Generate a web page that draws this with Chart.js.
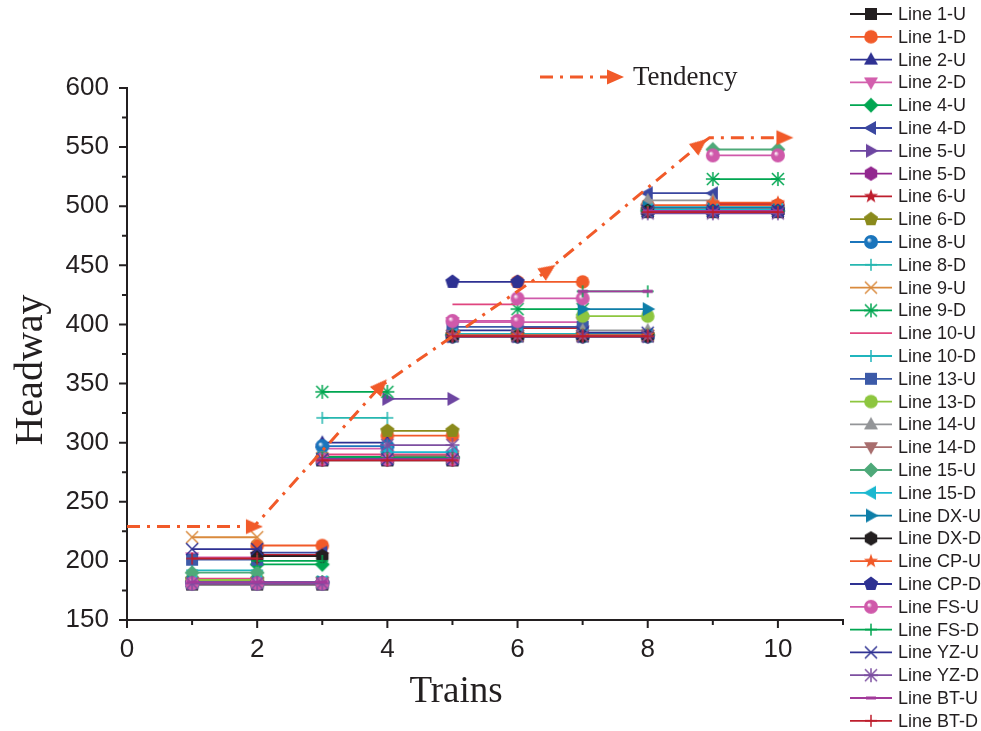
<!DOCTYPE html>
<html>
<head>
<meta charset="utf-8">
<script src="https://cdn.jsdelivr.net/npm/chart.js@4.4.1/dist/chart.umd.min.js"></script>
<style>
  html, body { margin: 0; padding: 0; background: #fff; }
  #wrap { width: 981px; height: 731px; position: relative; }
</style>
</head>
<body>
<div id="wrap"><canvas id="chart" width="981" height="731"></canvas></div>
<script>
// --- 1. Data ---
// each line: [first train, last train, headway] segments
const seriesNames = [
  'Line 1-U', 'Line 1-D', 'Line 2-U', 'Line 2-D', 'Line 4-U', 'Line 4-D', 'Line 5-U', 'Line 5-D',
  'Line 6-U', 'Line 6-D', 'Line 8-U', 'Line 8-D', 'Line 9-U', 'Line 9-D', 'Line 10-U', 'Line 10-D',
  'Line 13-U', 'Line 13-D', 'Line 14-U', 'Line 14-D', 'Line 15-U', 'Line 15-D', 'Line DX-U', 'Line DX-D',
  'Line CP-U', 'Line CP-D', 'Line FS-U', 'Line FS-D', 'Line YZ-U', 'Line YZ-D', 'Line BT-U', 'Line BT-D'
];

const line1U  = [[1, 3, 180], [3, 5, 285], [5, 8, 390], [8, 10, 495]];
const line1D  = [[2, 3, 213], [4, 5, 306], [6, 7, 436], [8, 10, 501]];
const line2U  = [[1, 2, 182], [3, 4, 300], [5, 6, 395], [8, 10, 497]];
const line2D  = [[1, 2, 203], [3, 4, 295], [5, 7, 402], [8, 10, 497]];
const line4U  = [[2, 3, 197], [3, 5, 288], [6, 8, 391], [8, 10, 496]];
const line4D  = [[2, 3, 207], [3, 5, 287], [5, 8, 391], [8, 9, 511]];
const line5U  = [[1, 3, 181], [4, 5, 337], [5, 8, 390], [8, 10, 496]];
const line5D  = [[1, 3, 181], [3, 5, 286], [5, 8, 390], [8, 10, 496]];
const line6U  = [[2, 3, 205], [3, 5, 286], [6, 7, 397], [9, 10, 502]];
const line6D  = [[1, 2, 184], [4, 5, 310], [5, 8, 391], [8, 10, 497]];
const line8U  = [[1, 3, 181], [3, 4, 297], [5, 8, 390], [8, 10, 496]];
const line8D  = [[1, 3, 182], [3, 4, 321], [5, 8, 391], [8, 10, 499]];
const line9U  = [[1, 2, 220], [3, 5, 287], [5, 8, 391], [8, 10, 497]];
const line9D  = [[1, 3, 182], [3, 4, 343], [6, 7, 413], [9, 10, 523]];
const line10U = [[1, 2, 185], [3, 5, 290], [5, 6, 417], [8, 10, 497]];
const line10D = [[1, 2, 192], [3, 5, 286], [5, 8, 392], [8, 10, 496]];
const line13U = [[1, 2, 201], [3, 5, 286], [5, 7, 398], [8, 10, 496]];
const line13D = [[1, 2, 184], [3, 5, 287], [7, 8, 407], [8, 10, 497]];
const line14U = [[1, 3, 181], [3, 5, 286], [7, 8, 395], [8, 9, 505]];
const line14D = [[1, 3, 182], [4, 5, 289], [5, 8, 391], [8, 10, 498]];
const line15U = [[1, 2, 190], [3, 5, 287], [5, 8, 391], [9, 10, 548]];
const line15D = [[1, 3, 182], [4, 5, 292], [5, 8, 391], [8, 10, 497]];
const lineDXU = [[1, 3, 182], [3, 5, 287], [7, 8, 413], [8, 10, 499]];
const lineDXD = [[2, 3, 204], [3, 5, 286], [5, 8, 390], [8, 10, 496]];
const lineCPU = [[1, 3, 181], [3, 5, 286], [5, 8, 391], [9, 10, 503]];
const lineCPD = [[1, 3, 181], [3, 5, 286], [5, 6, 436], [9, 10, 496]];
const lineFSU = [[1, 3, 181], [3, 5, 286], [5, 6, 403], [6, 7, 422], [9, 10, 543]];
const lineFSD = [[2, 3, 200], [3, 5, 287], [7, 8, 428], [8, 10, 496]];
const lineYZU = [[1, 2, 210], [3, 5, 286], [7, 8, 393], [8, 10, 496]];
const lineYZD = [[1, 3, 181], [4, 5, 298], [5, 8, 390], [8, 10, 494]];
const lineBTU = [[1, 3, 182], [3, 5, 286], [7, 8, 428], [8, 10, 496]];
const lineBTD = [[1, 2, 202], [3, 5, 285], [5, 8, 390], [8, 10, 495]];

const seriesSegments = [
  line1U, line1D, line2U, line2D, line4U, line4D, line5U, line5D,
  line6U, line6D, line8U, line8D, line9U, line9D, line10U, line10D,
  line13U, line13D, line14U, line14D, line15U, line15D, lineDXU, lineDXD,
  lineCPU, lineCPD, lineFSU, lineFSD, lineYZU, lineYZD, lineBTU, lineBTD
];

// tendency line (arrows at some of the points)
const tendencyTrains  = [0, 1.95, 3.9, 6.47, 8.8, 8.95, 10.1];
const tendencyHeadway = [229, 229, 348, 446, 552, 558, 558];
const tendencyArrow   = [false, true, true, true, true, false, true];

const xLabels = [0, 2, 4, 6, 8, 10];

// --- 2. Styles ---
const seriesStyles = [
  { color: '#231f20', marker: 'square' },   { color: '#f15a29', marker: 'circle' },
  { color: '#2e3192', marker: 'triUp' },    { color: '#d35fad', marker: 'triDown' },
  { color: '#00a651', marker: 'diamond' },  { color: '#3a47a0', marker: 'triLeft' },
  { color: '#6d45a1', marker: 'triRight' }, { color: '#92278f', marker: 'hexagon' },
  { color: '#be1e2d', marker: 'star5' },    { color: '#8a8a1c', marker: 'pentagon' },
  { color: '#1b75bc', marker: 'sphere' },   { color: '#26b7b0', marker: 'plus' },
  { color: '#d98a3d', marker: 'cross' },    { color: '#00a651', marker: 'asterisk' },
  { color: '#e0457f', marker: 'none' },     { color: '#20b5bd', marker: 'plus' },
  { color: '#3c5aa8', marker: 'square' },   { color: '#8dc63f', marker: 'circle' },
  { color: '#939598', marker: 'triUp' },    { color: '#a86e6e', marker: 'triDown' },
  { color: '#4ea979', marker: 'diamond' },  { color: '#1bb8d0', marker: 'triLeft' },
  { color: '#0e7ea8', marker: 'triRight' }, { color: '#231f20', marker: 'hexagon' },
  { color: '#f15a29', marker: 'star5' },    { color: '#2e3192', marker: 'pentagon' },
  { color: '#cf59aa', marker: 'sphere' },   { color: '#00a651', marker: 'plus' },
  { color: '#2e3192', marker: 'cross' },    { color: '#7d4fa0', marker: 'asterisk' },
  { color: '#a23a9a', marker: 'dash' },     { color: '#be1e2d', marker: 'plus' }
];
const TEND_COLOR = '#f15a29';
const INK = '#231f20';

// --- 3. Marker canvases ---
function makeMarker(kind, color) {
  const size = 20;
  const c = document.createElement('canvas');
  c.width = size; c.height = size;
  const g = c.getContext('2d');
  g.translate(size / 2, size / 2);
  g.fillStyle = color;
  g.strokeStyle = color;
  g.lineWidth = 1.5;

  const poly = (n, r, start) => {
    g.beginPath();
    for (let k = 0; k < n; k++) {
      const a = start + k * 2 * Math.PI / n;
      g.lineTo(r * Math.cos(a), r * Math.sin(a));
    }
    g.closePath();
    g.fill();
  };
  const tri = (rot) => {
    g.save();
    g.rotate(rot);
    g.beginPath();
    g.moveTo(0, -7.5); g.lineTo(7, 5); g.lineTo(-7, 5);
    g.closePath(); g.fill();
    g.restore();
  };
  const seg = (x1, y1, x2, y2) => { g.beginPath(); g.moveTo(x1, y1); g.lineTo(x2, y2); g.stroke(); };

  switch (kind) {
    case 'square': g.fillRect(-6, -6, 12, 12); break;
    case 'circle': g.beginPath(); g.arc(0, 0, 6.8, 0, 2 * Math.PI); g.fill(); break;
    case 'triUp': tri(0); break;
    case 'triDown': tri(Math.PI); break;
    case 'triLeft': tri(-Math.PI / 2); break;
    case 'triRight': tri(Math.PI / 2); break;
    case 'diamond': poly(4, 7.5, -Math.PI / 2); break;
    case 'hexagon': poly(6, 7.2, -Math.PI / 2); break;
    case 'pentagon': poly(5, 7.5, -Math.PI / 2); break;
    case 'star5': {
      g.beginPath();
      for (let k = 0; k < 10; k++) {
        const r = k % 2 === 0 ? 7.5 : 3;
        const a = -Math.PI / 2 + k * Math.PI / 5;
        g.lineTo(r * Math.cos(a), r * Math.sin(a));
      }
      g.closePath(); g.fill();
      break;
    }
    case 'sphere': {
      const grd = g.createRadialGradient(-2.2, -2.2, 0.3, 0, 0, 7);
      grd.addColorStop(0, '#ffffff');
      grd.addColorStop(0.35, color);
      grd.addColorStop(1, color);
      g.fillStyle = grd;
      g.beginPath(); g.arc(0, 0, 7, 0, 2 * Math.PI); g.fill();
      break;
    }
    case 'plus': seg(-6, 0, 6, 0); seg(0, -6, 0, 6); break;
    case 'cross': seg(-6, -6, 6, 6); seg(-6, 6, 6, -6); break;
    case 'asterisk': seg(-6, -6, 6, 6); seg(-6, 6, 6, -6); seg(-7, 0, 7, 0); seg(0, -7, 0, 7); break;
    case 'dash': g.fillRect(-5, -1.5, 10, 3); break;
  }
  return c;
}

function makeArrow(color) {
  const c = document.createElement('canvas');
  c.width = 24; c.height = 24;
  const g = c.getContext('2d');
  g.translate(12, 12);
  g.fillStyle = color;
  g.beginPath();
  g.moveTo(9, 0); g.lineTo(-8, -7.5); g.lineTo(-8, 7.5);
  g.closePath(); g.fill();
  return c;
}

const markerCanvases = seriesStyles.map(s => makeMarker(s.marker, s.color));
const arrowCanvas = makeArrow(TEND_COLOR);

// --- 4. Datasets ---
function segmentsToPoints(segs) {
  const pts = [];
  segs.forEach(([from, to, h], k) => {
    if (k > 0) pts.push({ x: from, y: null });
    for (let t = from; t <= to; t++) pts.push({ x: t, y: h });
  });
  return pts;
}

const datasets = seriesSegments.map((segs, i) => ({
  label: seriesNames[i],
  data: segmentsToPoints(segs),
  borderColor: seriesStyles[i].color,
  borderWidth: 1.8,
  pointStyle: markerCanvases[i],
  pointRadius: seriesStyles[i].marker === 'none' ? 0 : 6,
  spanGaps: false,
  order: seriesSegments.length - i
}));

datasets.push({
  label: 'Tendency',
  data: tendencyTrains.map((t, i) => ({ x: t, y: tendencyHeadway[i] })),
  borderColor: TEND_COLOR,
  borderWidth: 3,
  borderDash: [13, 7, 3, 7],
  pointStyle: arrowCanvas,
  pointRadius: tendencyArrow.map(a => a ? 8 : 0),
  pointRotation: (ctx) => {
    const i = ctx.dataIndex;
    if (i === 0) return 0;
    const { x, y } = ctx.chart.scales;
    const dx = x.getPixelForValue(tendencyTrains[i]) - x.getPixelForValue(tendencyTrains[i - 1]);
    const dy = y.getPixelForValue(tendencyHeadway[i]) - y.getPixelForValue(tendencyHeadway[i - 1]);
    return Math.atan2(dy, dx) * 180 / Math.PI;
  },
  order: 0
});

// --- 5. Plugins: ticks, titles, legend ---
const decorations = {
  id: 'decorations',
  afterDraw(chart) {
    const { ctx } = chart;
    const xs = chart.scales.x, ys = chart.scales.y;
    ctx.save();

    // tick marks (outward, major + minor)
    ctx.strokeStyle = INK;
    ctx.lineWidth = 2;
    ctx.beginPath();
    for (let v = 0; v <= 11; v++) {
      const px = xs.getPixelForValue(v);
      const len = v % 2 === 0 ? 8 : 5;
      ctx.moveTo(px, xs.top); ctx.lineTo(px, xs.top + len);
    }
    for (let v = 150; v <= 600; v += 25) {
      const py = ys.getPixelForValue(v);
      const len = v % 50 === 0 ? 8 : 5;
      ctx.moveTo(ys.right - len, py); ctx.lineTo(ys.right, py);
    }
    ctx.stroke();

    // axis titles
    ctx.fillStyle = INK;
    ctx.textAlign = 'center';
    ctx.textBaseline = 'middle';
    ctx.font = '37px "Liberation Serif", "Times New Roman", serif';
    ctx.fillText('Trains', 456, 692);
    ctx.save();
    ctx.translate(31, 370);
    ctx.rotate(-Math.PI / 2);
    ctx.font = '40px "Liberation Serif", "Times New Roman", serif';
    ctx.fillText('Headway', 0, 0);
    ctx.restore();

    // tendency legend
    ctx.strokeStyle = TEND_COLOR;
    ctx.lineWidth = 3;
    ctx.setLineDash([13, 7, 3, 7]);
    ctx.beginPath(); ctx.moveTo(540, 77); ctx.lineTo(610, 77); ctx.stroke();
    ctx.setLineDash([]);
    ctx.drawImage(arrowCanvas, 615 - 12, 77 - 12);
    ctx.textAlign = 'left';
    ctx.font = '27px "Liberation Serif", "Times New Roman", serif';
    ctx.fillText('Tendency', 633, 78);

    // series legend
    ctx.font = '18px "Liberation Sans", Arial, sans-serif';
    seriesNames.forEach((name, i) => {
      const y = 14 + i * 22.8;
      ctx.strokeStyle = seriesStyles[i].color;
      ctx.lineWidth = 1.8;
      ctx.beginPath(); ctx.moveTo(850, y); ctx.lineTo(892, y); ctx.stroke();
      if (seriesStyles[i].marker !== 'none') ctx.drawImage(markerCanvases[i], 871 - 10, y - 10);
      ctx.fillStyle = INK;
      ctx.fillText(name, 898, y + 1);
    });
    ctx.restore();
  }
};

// --- 6. Chart ---
new Chart(document.getElementById('chart'), {
  type: 'line',
  data: { datasets },
  options: {
    responsive: false,
    animation: false,
    events: [],
    layout: { padding: { left: 0, top: 88, right: 138, bottom: 0 } },
    plugins: { legend: { display: false }, tooltip: { enabled: false } },
    scales: {
      x: {
        type: 'linear',
        min: 0, max: 11,
        grid: { display: false, drawTicks: false },
        border: { display: true, color: INK, width: 2 },
        ticks: {
          stepSize: 1, autoSkip: false, maxRotation: 0, padding: 14,
          color: INK,
          font: { family: '"Liberation Sans", Arial, sans-serif', size: 26 },
          callback: v => xLabels.includes(v) ? String(v) : ''
        },
        afterFit: s => { s.height = 111; }
      },
      y: {
        min: 150, max: 600,
        grid: { display: false, drawTicks: false },
        border: { display: true, color: INK, width: 2 },
        ticks: {
          stepSize: 50, padding: 18,
          color: INK,
          font: { family: '"Liberation Sans", Arial, sans-serif', size: 26 }
        },
        afterFit: s => { s.width = 127; }
      }
    }
  },
  plugins: [decorations]
});
</script>
</body>
</html>
